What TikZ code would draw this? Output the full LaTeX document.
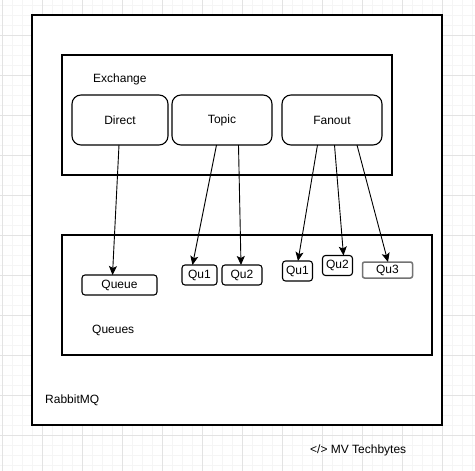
\documentclass[tikz,border=0pt]{standalone}
\usepackage{fontspec}
\setmainfont{Liberation Sans}
\usetikzlibrary{positioning,arrows.meta}

\begin{document}
\begin{tikzpicture}[
  x=1pt, y=-1pt,
  font=\fontsize{12}{14}\selectfont,
  >={Stealth[length=9pt,width=8pt,inset=2pt]},
  frame/.style={draw, fill=white, line width=1.4pt, inner sep=0pt, outer sep=0pt, anchor=north west},
  xbox/.style={draw, fill=white, line width=1.1pt, rounded corners=9pt, inner sep=0pt, outer sep=0pt, minimum height=50pt},
  qbox/.style={draw, fill=white, line width=1.1pt, rounded corners=3pt, inner sep=0pt, outer sep=0pt, minimum height=20pt},
  lbl/.style={anchor=west, inner sep=0pt},
  flow/.style={->, line width=0.9pt}
]
\useasboundingbox (0,0) rectangle (475,471);
% grid
\foreach \gx in {2.5,12.5,...,472.5} \draw[black!4, line width=0.8pt] (\gx,0) -- (\gx,471);
\foreach \gy in {5,15,...,465} \draw[black!4, line width=0.8pt] (0,\gy) -- (475,\gy);
\foreach \gx in {2.5,42.5,...,442.5} \draw[black!11, line width=0.8pt] (\gx,0) -- (\gx,471);
\foreach \gy in {35,75,...,435} \draw[black!11, line width=0.8pt] (0,\gy) -- (475,\gy);

\node[frame, minimum width=410pt, minimum height=410pt] (rabbit) at (32,15) {};
\node[lbl] (rabbitlbl) at (45,400) {RabbitMQ};

% exchanges
\node[frame, minimum width=330pt, minimum height=120pt] (exch) at (62,55) {};
\node[lbl] (exchlbl) at (93,79) {Exchange};
\node[xbox, minimum width=96pt, anchor=north west] (direct) at (72,95) {Direct};
\node[xbox, minimum width=100pt, right=4pt of direct] (topic) {Topic};
\node[xbox, minimum width=100pt, right=10pt of topic] (fanout) {Fanout};

% queues
\node[frame, minimum width=370pt, minimum height=120pt] (queues) at (62,235) {};
\node[lbl] (queueslbl) at (92,330) {Queues};
\node[qbox, minimum width=75pt, anchor=north west] (queue) at (82,275) {Queue};
\node[qbox, minimum width=35pt, anchor=north west] (tq1) at (182,265) {Qu1};
\node[qbox, minimum width=40pt, right=5pt of tq1] (tq2) {Qu2};
\node[qbox, minimum width=30pt, anchor=north west] (fq1) at (282.5,261) {Qu1};
\node[qbox, minimum width=30pt, anchor=north west] (fq2) at (322.5,255.5) {Qu2};
\node[qbox, draw=black!55, line width=1.5pt, rounded corners=2pt, minimum width=50pt, minimum height=16pt, anchor=north west] (fq3) at (362.5,262) {Qu3};

\draw[flow] ([xshift=-1pt]direct.south) -- ([xshift=-7pt]queue.north);
\draw[flow] ([xshift=-5.5pt]topic.south) -- ([xshift=-7pt]tq1.north);
\draw[flow] ([xshift=16.5pt]topic.south) -- ([xshift=-1pt]tq2.north);
\draw[flow] ([xshift=-14.5pt]fanout.south) -- ([xshift=0.5pt]fq1.north);
\draw[flow] ([xshift=2.5pt]fanout.south) -- ([xshift=6pt]fq2.north);
\draw[flow] ([xshift=25pt]fanout.south) -- ([xshift=0.5pt]fq3.north);

\node[lbl] (credit) at (310,450) {</> MV Techbytes};
\end{tikzpicture}
\end{document}
